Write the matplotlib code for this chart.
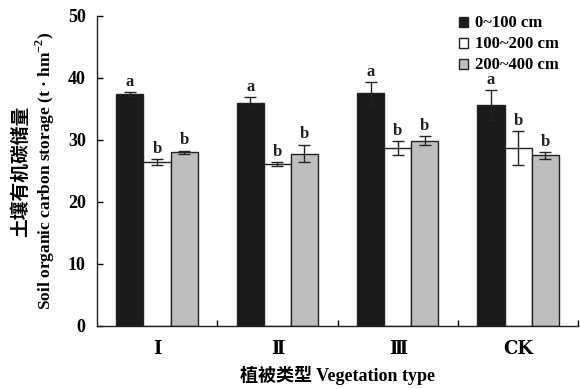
import numpy as np
import matplotlib
matplotlib.use("Agg")
import matplotlib.pyplot as plt

plt.rcParams['font.family'] = ['Liberation Serif', 'Noto Sans CJK SC', 'DejaVu Sans']
plt.rcParams['font.weight'] = 'bold'
plt.rcParams['mathtext.fontset'] = 'custom'
plt.rcParams['mathtext.rm'] = 'Liberation Serif:bold'
plt.rcParams['mathtext.bf'] = 'Liberation Serif:bold'

groups = ['Ⅰ', 'Ⅱ', 'Ⅲ', 'CK']
depths = ['0~100 cm', '100~200 cm', '200~400 cm']
mean_0_100 = [37.4, 36.0, 37.5, 35.6]
err_0_100 = [0.3, 0.9, 1.8, 2.4]
mean_100_200 = [26.4, 26.1, 28.7, 28.7]
err_100_200 = [0.5, 0.3, 1.1, 2.7]
mean_200_400 = [28.0, 27.8, 29.9, 27.5]
err_200_400 = [0.3, 1.4, 0.7, 0.5]
letters_0_100 = ['a', 'a', 'a', 'a']
letters_100_200 = ['b', 'b', 'b', 'b']
letters_200_400 = ['b', 'b', 'b', 'b']

means = [mean_0_100, mean_100_200, mean_200_400]
errs = [err_0_100, err_100_200, err_200_400]
letters = [letters_0_100, letters_100_200, letters_200_400]
colors = ['#1a1a1a', '#ffffff', '#bdbec0']

fig = plt.figure(figsize=(5.8, 3.89), dpi=100)
ax = fig.add_axes([0.167, 0.162, 0.830, 0.797])

x = np.arange(len(groups))
w = 0.225
for i in range(3):
    pos = x + (i - 1) * w
    ax.bar(pos, means[i], width=w, color=colors[i], edgecolor='#222222',
           linewidth=1.0, label=depths[i], zorder=2)
    ax.errorbar(pos, means[i], yerr=errs[i], fmt='none', ecolor='#222222',
                elinewidth=1.0, capsize=4, capthick=1.0, zorder=3)
    for p, m, e, t in zip(pos, means[i], errs[i], letters[i]):
        ax.text(p, m + e + 0.4, t, ha='center', va='bottom', fontsize=12,
                fontweight='bold', color='#222222')

ax.set_xlim(-0.5, 3.5)
ax.set_ylim(0, 50)
ax.set_yticks(np.arange(0, 51, 10))
ax.set_xticks(x)
ax.set_xticklabels(groups, fontsize=13, fontweight='bold',
                   family=['DejaVu Serif', 'Liberation Serif'])
ax.set_xticks(np.arange(0.5, 4.0, 1.0), minor=True)
ax.tick_params(axis='x', which='major', length=0, pad=10)
ax.tick_params(axis='x', which='minor', direction='in', length=4, width=1)
ax.tick_params(axis='y', direction='in', length=4, width=1, labelsize=13, pad=8)
for lab in ax.get_yticklabels():
    lab.set_fontweight('bold')
ax.spines['top'].set_visible(False)
ax.spines['right'].set_visible(False)
for s in ('left', 'bottom'):
    ax.spines[s].set_linewidth(1.0)
    ax.spines[s].set_color('#222222')

leg = ax.legend(loc='upper right', bbox_to_anchor=(0.99, 1.05), frameon=False,
                fontsize=12, handlelength=0.55, handleheight=0.55,
                handletextpad=0.4, labelspacing=0.3)
for t in leg.get_texts():
    t.set_fontweight('bold')

fig.text(0.035, 0.56, '土壤有机碳储量', rotation=90, ha='center', va='center',
         fontsize=13.5, fontweight='bold', family=['Noto Sans CJK SC'])
fig.text(0.078, 0.56, 'Soil organic carbon storage (t · hm$^{-2}$)',
         rotation=90, ha='center', va='center', fontsize=12.5, fontweight='bold')
fig.text(0.582, 0.035, '植被类型 Vegetation type', ha='center', va='center',
         fontsize=13, fontweight='bold',
         family=['Liberation Serif', 'Noto Sans CJK SC'])

fig.savefig('out.png', dpi=100)
